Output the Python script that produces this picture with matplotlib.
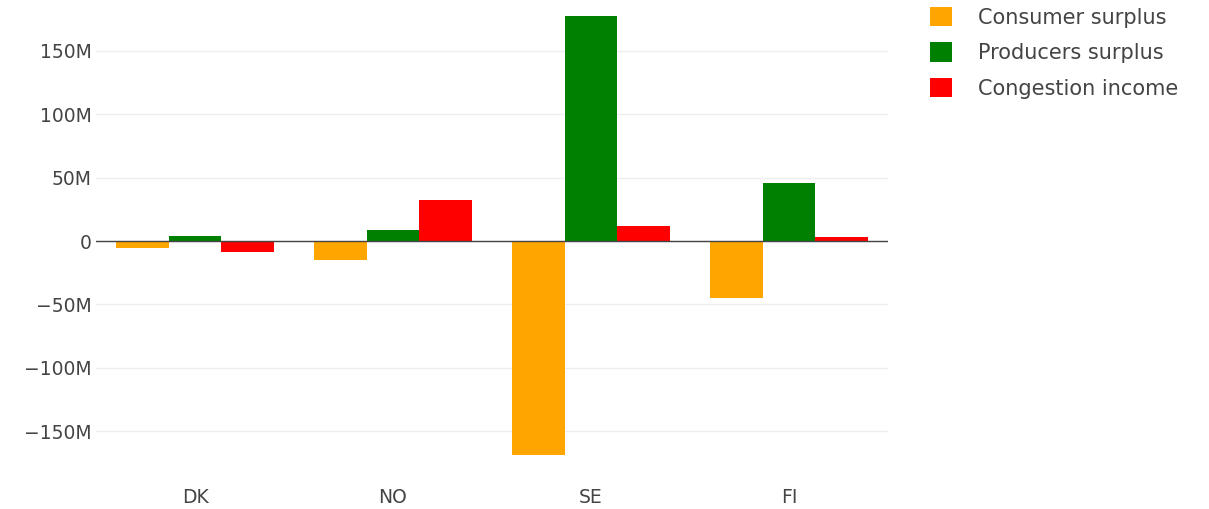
import matplotlib.pyplot as plt
import numpy as np
from matplotlib.ticker import FuncFormatter

plt.rcParams['font.family'] = ['DejaVu Sans']

countries = ['DK', 'NO', 'SE', 'FI']
series_names = ['Consumer surplus', 'Producers surplus', 'Congestion income']
consumer = [-5.7e6, -15.0e6, -169.0e6, -45.0e6]
producers = [3.9e6, 8.7e6, 177.7e6, 45.4e6]
congestion = [-8.4e6, 32.3e6, 11.8e6, 2.9e6]
colors = ['#FFA500', '#008000', '#FF0000']

fig = plt.figure(figsize=(12.09, 5.09), dpi=100)
ax = fig.add_axes([96 / 1209, 32 / 509, 792 / 1209, 477 / 509])

x = np.arange(len(countries))
w = 0.8 / 3
for i, (vals, name) in enumerate(zip([consumer, producers, congestion], series_names)):
    ax.bar(x + (i - 1) * w, vals, width=w, color=colors[i], label=name, zorder=2)

ax.set_xlim(-0.5, 3.5)
ax.set_ylim(-186e6, 190e6)
ax.set_yticks([-150e6, -100e6, -50e6, 0, 50e6, 100e6, 150e6])


def fmt(v, pos):
    if v == 0:
        return '0'
    s = f'{abs(v) / 1e6:.0f}M'
    return ('\u2212' + s) if v < 0 else s


ax.yaxis.set_major_formatter(FuncFormatter(fmt))
ax.set_xticks(x)
ax.set_xticklabels(countries)
ax.tick_params(axis='both', length=0, labelsize=13.5, colors='#444444')
ax.tick_params(axis='y', pad=3)
ax.tick_params(axis='x', pad=8)
ax.grid(axis='y', color='#eeeeee', linewidth=1, zorder=0)
ax.axhline(0, color='#444444', linewidth=1, zorder=3)
for sp in ax.spines.values():
    sp.set_visible(False)

leg = ax.legend(loc='upper left', bbox_to_anchor=(930 / 1209, 1 - 7 / 509), bbox_transform=fig.transFigure,
                frameon=False, fontsize=15, handlelength=1.06, handleheight=1.06,
                handletextpad=1.25, labelspacing=0.7, borderaxespad=0, borderpad=0)
for t in leg.get_texts():
    t.set_color('#444444')

fig.savefig('out.png', dpi=100)
